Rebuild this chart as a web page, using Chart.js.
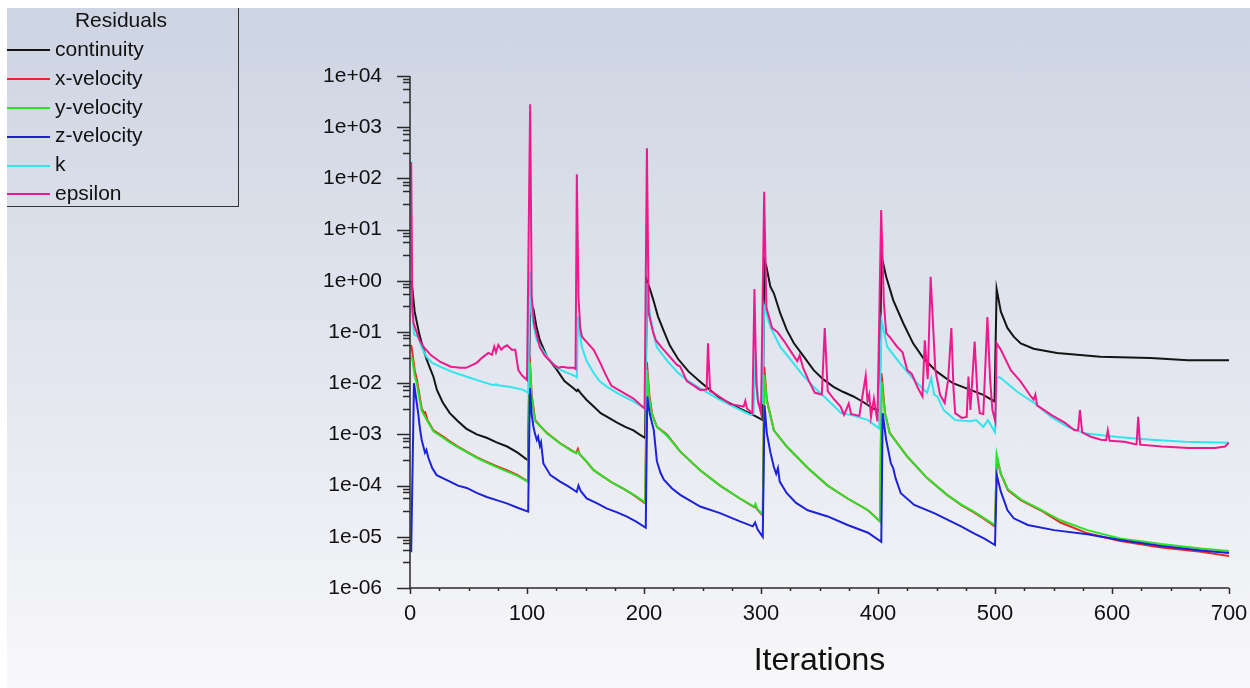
<!DOCTYPE html>
<html>
<head>
<meta charset="utf-8">
<script src="https://cdn.jsdelivr.net/npm/chart.js@4.4.1/dist/chart.umd.min.js"></script>
<style>
  html, body { margin: 0; padding: 0; width: 1250px; height: 688px; overflow: hidden; background: #fff;
    font-family: "Liberation Sans", Arial, sans-serif; }
  #bg { position: absolute; left: 7px; top: 8px; right: 0; bottom: 0;
    background: linear-gradient(#cdd4e2, #e4e7ef 55%, #f8f8fa); }
  #chart { position: absolute; left: 0; top: 0; }
  #legend { position: absolute; left: 7px; top: 8px; width: 231px; height: 198px;
    border-right: 1px solid #333; border-bottom: 1px solid #333; color: #111; font-size: 21px; }
  #legend .title { position: absolute; left: 0; width: 228px; top: 0; line-height: 24px; text-align: center; }
  #legend .row { position: absolute; left: 0; height: 24px; line-height: 24px; white-space: nowrap; }
  #legend .swatch { display: inline-block; width: 43px; height: 2px; vertical-align: middle; margin-right: 5px; }
</style>
</head>
<body>
<div id="bg"></div>
<canvas id="chart" width="1250" height="688"></canvas>
<div id="legend"><div class="title">Residuals</div></div>
<script>
// residual histories, [iteration, residual]
const continuity = [[1, 1.0], [2, 0.7], [4, 0.25], [6, 0.15], [8, 0.09], [11, 0.05], [14, 0.03], [17, 0.02], [20, 0.0134],
  [23, 0.0074], [28, 0.0042], [34, 0.0026], [41, 0.0018], [48, 0.0013], [57, 0.001], [66, 0.00085], [74, 0.0007],
  [83, 0.00058], [92, 0.00044], [101, 0.00031], [102.5, 0.35], [105.5, 0.28], [108, 0.13], [111, 0.069], [117, 0.033],
  [125, 0.019], [132, 0.011], [140, 0.0079], [142.5, 0.007], [143.5, 0.0075], [146, 0.0063], [151, 0.0047], [157, 0.0035],
  [163, 0.0026], [170, 0.0021], [177, 0.0017], [184, 0.0014], [191, 0.0012], [196, 0.001], [201, 0.00085], [202.5, 1.0],
  [205, 0.7], [208, 0.42], [212, 0.2], [216.5, 0.11], [222, 0.055], [229, 0.03], [238, 0.017], [248, 0.0107], [256, 0.0075],
  [265, 0.0051], [274, 0.004], [282, 0.0032], [292, 0.0025], [301.5, 0.0019], [302.8, 2.6], [304.6, 1.9], [308, 0.77],
  [311, 0.57], [316.5, 0.23], [322, 0.11], [328, 0.061], [336.6, 0.033], [345, 0.018], [353, 0.012], [362, 0.0085],
  [370, 0.0068], [379, 0.0055], [388, 0.0042], [396, 0.0032], [401.5, 0.0029], [402.8, 3.2], [407, 1.2], [413, 0.42],
  [421.5, 0.15], [430, 0.06], [438.7, 0.031], [450, 0.017], [464, 0.01], [479, 0.0074], [490, 0.0059], [499.6, 0.0044],
  [501.4, 0.69], [505, 0.25], [510.6, 0.12], [516, 0.081], [522, 0.06], [533, 0.047], [553, 0.039], [590, 0.033],
  [633, 0.031], [665, 0.028], [700, 0.028]]

const xVelocity = [[1, 0.056], [2, 0.04], [4, 0.018], [6, 0.0115], [8, 0.006], [10, 0.0032], [12, 0.0026], [13, 0.0027],
  [15, 0.0019], [20, 0.0012], [27, 0.00095], [34, 0.00073], [41, 0.00058], [48.5, 0.00046], [57, 0.00036], [65.6, 0.00029],
  [74, 0.00024], [82.7, 0.0002], [92, 0.00016], [101, 0.00012], [102.3, 0.033], [104, 0.006], [107, 0.0019], [112, 0.0014],
  [117, 0.00107], [128, 0.00068], [136, 0.00052], [142, 0.00043], [143.5, 0.00052], [145, 0.00041], [150, 0.00031],
  [157, 0.0002], [165, 0.00015], [174, 0.00011], [183, 0.000085], [191, 0.000066], [201, 0.000045], [202.5, 0.026],
  [204.5, 0.006], [207, 0.0025], [211, 0.0014], [219.6, 0.001], [231, 0.00046], [248, 0.0002], [265, 0.0001],
  [282, 0.000056], [294, 0.000038], [295.3, 0.00004], [296.5, 0.000035], [301.5, 0.000026], [302.8, 0.021], [305, 0.0047],
  [311, 0.0012], [322, 0.00058], [340, 0.00022], [357, 0.0001], [374, 0.000056], [391.5, 0.000033], [401.8, 0.00002],
  [403, 0.0155], [406, 0.0026], [410, 0.00107], [425, 0.00037], [442, 0.00014], [459, 0.000066], [471, 0.000042],
  [482, 0.00003], [491, 0.000022], [500, 0.000016], [501.5, 0.00035], [505, 0.00017], [511, 0.000082], [522, 0.000052],
  [539, 0.000033], [556, 0.000019], [579, 0.0000117], [607, 0.0000083], [642, 0.0000062], [676, 0.0000051], [700, 0.0000042]]

const yVelocity = [[1, 0.033], [2, 0.03], [4, 0.014], [6, 0.0095], [8, 0.005], [10, 0.0029], [12, 0.0024], [15, 0.0018],
  [20, 0.00115], [27, 0.0009], [34, 0.0007], [41, 0.00056], [48.5, 0.00045], [57, 0.00035], [65.6, 0.00028], [74, 0.00023],
  [82.7, 0.00019], [92, 0.000155], [101, 0.000118], [102.3, 0.026], [104, 0.005], [107, 0.0018], [112, 0.0014],
  [117, 0.00105], [128, 0.00067], [136, 0.00051], [142, 0.00043], [143.5, 0.00047], [145, 0.00041], [150, 0.00031],
  [157, 0.0002], [165, 0.00015], [174, 0.00011], [183, 0.000085], [191, 0.000067], [201, 0.000047], [202.5, 0.018],
  [204.5, 0.005], [207, 0.0024], [211, 0.0014], [219.6, 0.00095], [231, 0.00046], [248, 0.0002], [265, 0.0001],
  [282, 0.000056], [294, 0.000039], [295.3, 0.000044], [296.5, 0.000036], [301.5, 0.000027], [302.8, 0.0145],
  [305, 0.0045], [311, 0.0012], [322, 0.00058], [340, 0.00022], [357, 0.0001], [374, 0.000056], [391.5, 0.000033],
  [401.8, 0.00002], [403, 0.0107], [406, 0.0025], [410, 0.00105], [425, 0.00037], [442, 0.00014], [459, 0.000066],
  [471, 0.000043], [482, 0.000031], [491, 0.000023], [500, 0.000017], [501.5, 0.0004], [505, 0.00017], [511, 0.000085],
  [522, 0.000054], [539, 0.000034], [556, 0.000021], [579, 0.0000135], [607, 0.0000093], [642, 0.0000072],
  [676, 0.0000059], [700, 0.0000053]]

const zVelocity = [[1, 0.000005], [3.4, 0.01], [5, 0.0055], [7, 0.0026], [8.5, 0.0013], [10, 0.00078], [12.8, 0.00044],
  [14, 0.0005], [15.7, 0.00035], [19, 0.00022], [22.8, 0.00016], [28, 0.00014], [34.2, 0.00012], [41, 0.0001],
  [48.5, 0.00009], [57, 0.000072], [65.6, 0.00006], [74, 0.000052], [82.7, 0.000045], [92, 0.000037], [101, 0.000031],
  [102.5, 0.008], [104, 0.0025], [105.5, 0.0014], [107, 0.001], [108.4, 0.00078], [109.5, 0.0009], [111, 0.0006],
  [112, 0.0007], [114, 0.00027], [120, 0.00016], [128.3, 0.00012], [135, 0.000098], [140, 0.000082], [142.5, 0.000075],
  [144, 0.0001], [146, 0.000078], [151, 0.000056], [160, 0.000045], [168, 0.000036], [177, 0.00003], [185, 0.000025],
  [193, 0.00002], [201.5, 0.000015], [202.8, 0.0055], [205, 0.0025], [208.4, 0.0012], [211, 0.0003], [214, 0.00018],
  [217, 0.00013], [224, 0.000088], [231, 0.000066], [248, 0.000039], [265, 0.000029], [282, 0.00002], [293, 0.000016],
  [295, 0.000019], [297, 0.000014], [301.5, 0.00001], [303, 0.0037], [305, 0.00105], [308, 0.00045], [311, 0.00023],
  [313, 0.00017], [314.5, 0.00022], [316, 0.00012], [322, 0.000071], [330, 0.000046], [340, 0.000033], [357, 0.000025],
  [374, 0.000017], [391.5, 0.000012], [402.8, 0.000008], [404, 0.0026], [407, 0.00078], [411, 0.00027], [413, 0.00022],
  [415, 0.00014], [419.5, 0.000071], [431, 0.000042], [448, 0.000029], [471, 0.000016], [482, 0.0000117],
  [491, 0.0000092], [500, 0.0000069], [501.5, 0.00016], [505, 0.000076], [510.7, 0.000033], [516, 0.000023],
  [528, 0.000017], [550.5, 0.0000135], [579, 0.0000112], [607, 0.0000087], [642, 0.0000066], [676, 0.0000054],
  [700, 0.0000048]]

const kResidual = [[1, 0.46], [2, 0.23], [3.5, 0.09], [5, 0.085], [7, 0.08], [10, 0.05], [14, 0.033], [19, 0.025],
  [25.7, 0.021], [35, 0.017], [48.5, 0.0134], [60, 0.011], [71.3, 0.0091], [73.5, 0.0096], [75, 0.0091], [85, 0.0085],
  [97, 0.0074], [101, 0.0065], [102.6, 1.5], [104, 0.23], [106, 0.12], [108.4, 0.069], [117, 0.033], [125.5, 0.02],
  [133, 0.0165], [141.3, 0.0138], [142.6, 0.013], [143.6, 0.2], [145, 0.1], [146.9, 0.051], [151, 0.027], [156.9, 0.016],
  [162, 0.011], [168.4, 0.0085], [179.8, 0.0059], [190, 0.0045], [201, 0.0032], [202.6, 0.9], [205, 0.23], [208, 0.1],
  [211, 0.05], [220, 0.027], [229, 0.016], [238, 0.011], [248, 0.0079], [256, 0.0062], [265, 0.0047], [280, 0.0032],
  [291, 0.0024], [293.5, 0.0025], [295.5, 0.039], [297.5, 0.004], [301, 0.0041], [302.6, 0.32], [308, 0.126],
  [316.5, 0.051], [328, 0.024], [336, 0.014], [345, 0.0085], [357, 0.0047], [368.6, 0.0026], [380, 0.0023],
  [391.5, 0.0019], [401, 0.0013], [403, 0.17], [405.5, 0.09], [408, 0.051], [419, 0.024], [431, 0.0115], [442, 0.0065],
  [445.5, 0.0126], [448, 0.006], [451, 0.0054], [456, 0.003], [466, 0.0019], [479, 0.0018], [484, 0.0019], [490, 0.0014],
  [494, 0.0019], [500, 0.0011], [501.5, 0.0135], [505, 0.0126], [519, 0.0068], [533.5, 0.0041], [548, 0.0022],
  [562, 0.0014], [576.5, 0.00105], [605, 0.00089], [633.5, 0.00079], [662, 0.00072], [700, 0.00069]]

const epsilon = [[1, 210], [2, 0.3], [3, 0.15], [5, 0.11], [8, 0.07], [12, 0.05], [18, 0.035], [26, 0.026], [35, 0.021],
  [42.8, 0.02], [48, 0.02], [57, 0.025], [62, 0.032], [67, 0.039], [70, 0.036], [72, 0.052], [73.5, 0.04], [75.5, 0.056],
  [78, 0.045], [80, 0.05], [83, 0.055], [87, 0.045], [90, 0.045], [92.6, 0.018], [96, 0.014], [100, 0.0115],
  [102.7, 2800], [104, 0.5], [106, 0.15], [108, 0.095], [111, 0.05], [115, 0.035], [122.7, 0.023], [127, 0.02],
  [130, 0.021], [135, 0.02], [140, 0.02], [141.5, 0.019], [142.6, 120], [144, 0.49], [145.5, 0.12], [147, 0.081],
  [152, 0.06], [157, 0.045], [162.6, 0.025], [167, 0.015], [172, 0.009], [180, 0.007], [191, 0.005], [200.5, 0.0032],
  [202.5, 390], [204, 0.23], [208, 0.095], [210, 0.07], [215, 0.05], [222, 0.033], [228, 0.023], [231, 0.021],
  [236.6, 0.011], [248, 0.0074], [253.5, 0.0075], [254.7, 0.06], [256.5, 0.007], [259.5, 0.0065], [273.8, 0.0039],
  [285.2, 0.0035], [286.6, 0.0045], [288, 0.0032], [292.6, 0.0026], [294.4, 0.69], [296, 0.01], [297.3, 0.0047],
  [300, 0.0026], [302.7, 55], [304.6, 0.3], [309.5, 0.12], [314, 0.1], [320, 0.065], [326, 0.04], [331, 0.027],
  [333, 0.035], [336, 0.02], [341, 0.011], [346, 0.0065], [352, 0.006], [354.5, 0.12], [357, 0.007], [362, 0.005],
  [368, 0.0035], [371, 0.0024], [375, 0.004], [377, 0.0025], [384, 0.0023], [389.5, 0.014], [391, 0.0045],
  [392.5, 0.006], [394, 0.0022], [396.5, 0.005], [399.5, 0.0018], [402.7, 24], [405, 0.37], [407, 0.095], [410, 0.08],
  [416.5, 0.051], [421, 0.04], [425, 0.018], [429, 0.015], [433.6, 0.0085], [438, 0.0055], [440, 0.069], [442.5, 0.012],
  [445, 1.2], [449, 0.018], [453, 0.006], [457, 0.0041], [460, 0.012], [462.7, 0.12], [464.5, 0.008], [466, 0.0026],
  [471.6, 0.0021], [475.8, 0.0022], [477.3, 0.0135], [479, 0.003], [482.6, 0.065], [485, 0.006], [487, 0.0026],
  [490, 0.0025], [493.5, 0.195], [495.8, 0.012], [497.8, 0.003], [500.3, 0.0018], [501.4, 0.06], [505, 0.045],
  [513.5, 0.018], [522, 0.0107], [530.7, 0.0055], [533, 0.0048], [534.5, 0.006], [536, 0.0037], [548, 0.0024],
  [559.6, 0.0017], [568, 0.0012], [571, 0.0012], [572.6, 0.003], [574.5, 0.0011], [582, 0.0009], [590.7, 0.00079],
  [595, 0.00077], [596.4, 0.0012], [598, 0.00075], [610.6, 0.00072], [619, 0.00065], [621, 0.00064], [622.4, 0.0022],
  [624, 0.00063], [642.6, 0.00058], [665.5, 0.00054], [688, 0.00054], [696.5, 0.00058], [700, 0.00069]]

const seriesNames = ["continuity", "x-velocity", "y-velocity", "z-velocity", "k", "epsilon"]
const seriesData = [continuity, xVelocity, yVelocity, zVelocity, kResidual, epsilon]
const seriesColors = ["#141414", "#e42a22", "#2ee02a", "#1c22d6", "#34e4ec", "#ec1a8c"]

const yTicks = [1e-6, 1e-5, 1e-4, 1e-3, 1e-2, 1e-1, 1e0, 1e1, 1e2, 1e3, 1e4]
const yMinorFractions = [0.5, 0.75, 0.875, 0.9375]
const xMajorStep = 100
const xMinorStep = 25

// html legend box
const legend = document.getElementById("legend")
seriesNames.forEach((name, i) => {
    const row = document.createElement("div")
    row.className = "row"
    row.style.top = (29 + i * 28.8) + "px"
    const sw = document.createElement("span")
    sw.className = "swatch"
    sw.style.background = seriesColors[i]
    row.appendChild(sw)
    row.appendChild(document.createTextNode(name))
    legend.appendChild(row)
})

const axisTicks = {
    id: 'axisTicks',
    afterDraw(chart) {
        const {ctx, chartArea: a, scales: {x, y}} = chart
        ctx.save()
        ctx.strokeStyle = '#2a2a2a'
        ctx.lineWidth = 1.5
        ctx.beginPath()
        ctx.moveTo(a.left, a.top)
        ctx.lineTo(a.left, a.bottom)
        ctx.lineTo(a.right, a.bottom)
        yTicks.forEach((v, i) => {
            const py = Math.round(y.getPixelForValue(v)) + 0.5
            ctx.moveTo(a.left - 13, py)
            ctx.lineTo(a.left, py)
            if (i === 0) return
            const d = Math.log10(yTicks[i - 1])
            yMinorFractions.forEach(f => {
                const pm = Math.round(y.getPixelForValue(Math.pow(10, d + f))) + 0.5
                ctx.moveTo(a.left - 7, pm)
                ctx.lineTo(a.left, pm)
            })
        })
        for (let v = x.min; v <= x.max; v += xMinorStep) {
            const px = Math.round(x.getPixelForValue(v)) + 0.5
            ctx.moveTo(px, a.bottom)
            ctx.lineTo(px, a.bottom + (v % xMajorStep === 0 ? 6 : 3))
        }
        ctx.stroke()
        ctx.restore()
    }
}

const fmtExp = v => {
    const e = Math.round(Math.log10(v))
    return "1e" + (e < 0 ? "-" : "+") + String(Math.abs(e)).padStart(2, "0")
}

const ctx = document.getElementById("chart")
const residualChart = new Chart(ctx, {
    type: 'line',
    data: {
        datasets: seriesNames.map((name, i) => ({
            label: name,
            data: seriesData[i].map(([it, r]) => ({x: it, y: r})),
            borderColor: seriesColors[i],
            borderWidth: 2,
            pointRadius: 0,
            tension: 0,
            order: seriesNames.length - 1 - i,
        })),
    },
    options: {
        responsive: false,
        animation: false,
        devicePixelRatio: 1,
        layout: {padding: {top: 76, right: 21, bottom: 0, left: 0}},
        plugins: {
            legend: {display: false},
            tooltip: {enabled: false},
        },
        scales: {
            x: {
                type: 'linear',
                min: 0,
                max: 700,
                grid: {display: false, drawTicks: true, tickLength: 6},
                border: {display: false},
                ticks: {
                    stepSize: xMajorStep,
                    color: '#111',
                    padding: 7,
                    font: {family: '"Liberation Sans", Arial, sans-serif', size: 22},
                },
                title: {
                    display: true,
                    text: 'Iterations',
                    color: '#111',
                    padding: {top: 0, bottom: 8},
                    font: {family: '"Liberation Sans", Arial, sans-serif', size: 32},
                },
                afterFit: s => {
                    s.height = 100
                    s.paddingLeft = 0
                    s.paddingRight = 0
                },
            },
            y: {
                type: 'logarithmic',
                min: 1e-6,
                max: 1e4,
                grid: {display: false, drawTicks: true, tickLength: 13},
                border: {display: false},
                afterBuildTicks: s => { s.ticks = yTicks.map(v => ({value: v})) },
                ticks: {
                    autoSkip: false,
                    color: '#111',
                    padding: 15,
                    font: {family: '"Liberation Sans", Arial, sans-serif', size: 21},
                    callback: v => fmtExp(v),
                },
                afterFit: s => {
                    s.width = 410
                    s.paddingTop = 0
                    s.paddingBottom = 0
                },
            },
        },
    },
    plugins: [axisTicks],
})
</script>
</body>
</html>
